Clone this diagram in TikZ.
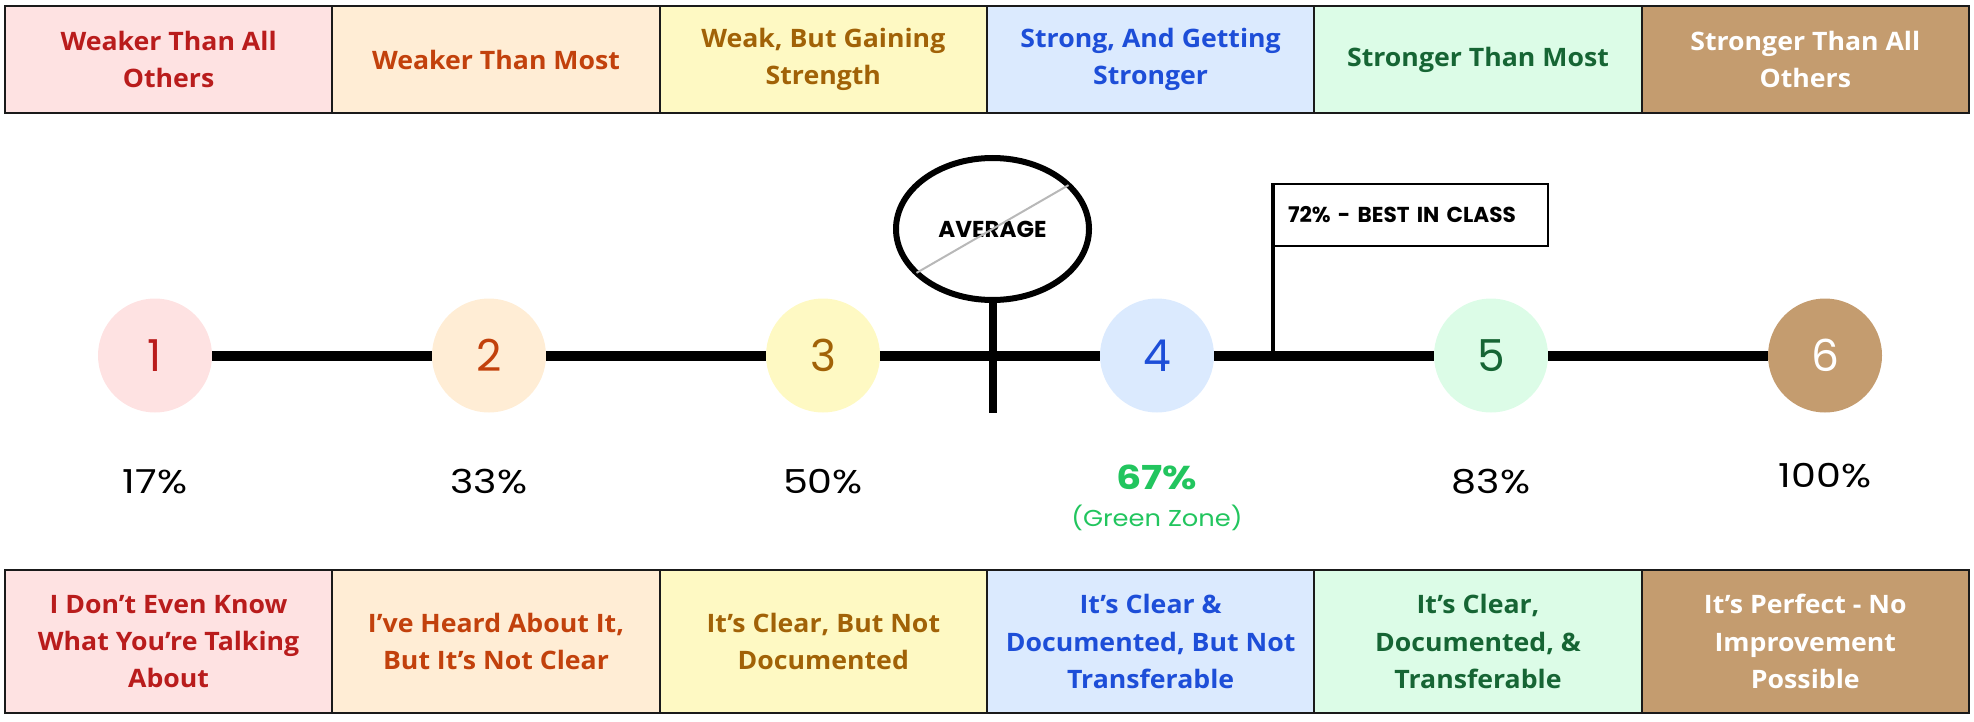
\documentclass[tikz,border=0pt]{standalone}
\usepackage{fontspec}
\setmainfont{Poppins}
\newfontfamily\boxfont{Open Sans}[FakeStretch=1.05]
\newfontfamily\widefont{Poppins}[FakeStretch=1.2]
\newfontfamily\gzfont{Poppins}[FakeStretch=1.12]
\usetikzlibrary{shapes.geometric}
\definecolor{r1bg}{HTML}{FEE2E2}\definecolor{r1fg}{HTML}{B91C1C}
\definecolor{r2bg}{HTML}{FFEDD5}\definecolor{r2fg}{HTML}{C2410C}
\definecolor{r3bg}{HTML}{FEF9C3}\definecolor{r3fg}{HTML}{A16207}
\definecolor{r4bg}{HTML}{DBEAFE}\definecolor{r4fg}{HTML}{1D4ED8}
\definecolor{r5bg}{HTML}{DCFCE7}\definecolor{r5fg}{HTML}{166534}
\definecolor{r6bg}{HTML}{C49C6F}\definecolor{r6fg}{HTML}{FFFFFF}
\definecolor{zone}{HTML}{22C55E}
\definecolor{edge}{HTML}{1A1A1A}
\definecolor{slash}{HTML}{B8B8B8}
\begin{document}
\begin{tikzpicture}[x=0.5pt,y=-0.5pt,
  lvl/.style={draw=edge,line width=1.1pt,minimum width=163.65pt,inner sep=0pt,align=center,
    font=\boxfont\bfseries\fontsize{12.7}{18.7}\selectfont},
  topbox/.style={lvl,minimum height=53.5pt},
  botbox/.style={lvl,minimum height=71.5pt},
  dot/.style={circle,minimum size=57pt,inner sep=0pt,font=\fontsize{22}{22}\selectfont},
  pct/.style={inner sep=0pt,font=\widefont\fontsize{16.5}{18}\selectfont},
  bar/.style={line width=5pt},
]
\useasboundingbox (0,0) rectangle (1974,722);
% top boxes
\node[topbox,fill=r1bg,text=r1fg] (t1) at (168.6,59.5) {Weaker Than All\\Others};
\node[topbox,fill=r2bg,text=r2fg] (t2) at (496.0,59.5) {Weaker Than Most};
\node[topbox,fill=r3bg,text=r3fg] (t3) at (823.3,59.5) {Weak, But Gaining\\Strength};
\node[topbox,fill=r4bg,text=r4fg] (t4) at (1150.6,59.5) {Strong, And Getting\\Stronger};
\node[topbox,fill=r5bg,text=r5fg] (t5) at (1478.0,59.5) {Stronger Than Most};
\node[topbox,fill=r6bg,text=r6fg] (t6) at (1805.3,59.5) {Stronger Than All\\Others};
% bottom boxes
\node[botbox,fill=r1bg,text=r1fg] (b1) at (168.6,641.5) {I Don’t Even Know\\What You’re Talking\\About};
\node[botbox,fill=r2bg,text=r2fg] (b2) at (496.0,641.5) {I’ve Heard About It,\\But It’s Not Clear};
\node[botbox,fill=r3bg,text=r3fg] (b3) at (823.3,641.5) {It’s Clear, But Not\\Documented};
\node[botbox,fill=r4bg,text=r4fg] (b4) at (1150.6,641.5) {It’s Clear \&\\Documented, But Not\\Transferable};
\node[botbox,fill=r5bg,text=r5fg] (b5) at (1478.0,641.5) {It’s Clear,\\Documented, \&\\Transferable};
\node[botbox,fill=r6bg,text=r6fg] (b6) at (1805.3,641.5) {It’s Perfect - No\\Improvement\\Possible};
% circles
\node[dot,fill=r1bg,text=r1fg] (c1) at (155,355.5) {1};
\node[dot,fill=r2bg,text=r2fg] (c2) at (489,355.5) {2};
\node[dot,fill=r3bg,text=r3fg] (c3) at (823,355.5) {3};
\node[dot,fill=r4bg,text=r4fg] (c4) at (1157,355.5) {4};
\node[dot,fill=r5bg,text=r5fg] (c5) at (1491,355.5) {5};
\node[dot,fill=r6bg,text=r6fg] (c6) at (1825,355.5) {6};
\draw[bar] (c1) -- (c2);
\draw[bar] (c2) -- (c3);
\draw[bar] (c3) -- (c4);
\draw[bar] (c4) -- (c5);
\draw[bar] (c5) -- (c6);
% average sign
\node[ellipse,draw=black,line width=3pt,minimum width=96.5pt,minimum height=71pt,inner sep=0pt,
  font=\bfseries\fontsize{11.5}{12}\selectfont] (avg) at (992.5,229) {AVERAGE};
\draw[slash,line width=1pt,shorten <=1.5pt,shorten >=1.5pt] (avg.210) -- (avg.30);
\coordinate (postb) at (992.5,413);
\draw[line width=4pt] (avg.south) -- (postb);
% flag
\node[draw=black,line width=1pt,anchor=north west,minimum width=137pt,minimum height=31pt,
  inner xsep=7pt,inner ysep=0pt,text width=123pt,align=left,
  font=\bfseries\fontsize{10.8}{12}\selectfont] (flag) at (1273,183) {72\% - BEST IN CLASS};
\coordinate (poleb) at (1273,355);
\draw[line width=2pt] (poleb) -- (flag.north west);
% percentages
\node[pct] (p1) at (155,482) {17\%};
\node[pct] (p2) at (489,482) {33\%};
\node[pct] (p3) at (823,482) {50\%};
\node[pct,text=zone,font=\widefont\bfseries\fontsize{16.5}{18}\selectfont] (p4) at (1157,477) {67\%};
\node[inner sep=0pt,text=zone,font=\gzfont\fontsize{11.5}{13}\selectfont] (gz) at (1157,518) {(Green Zone)};
\node[pct] (p5) at (1491,482) {83\%};
\node[pct] (p6) at (1825,476) {100\%};
\end{tikzpicture}
\end{document}
